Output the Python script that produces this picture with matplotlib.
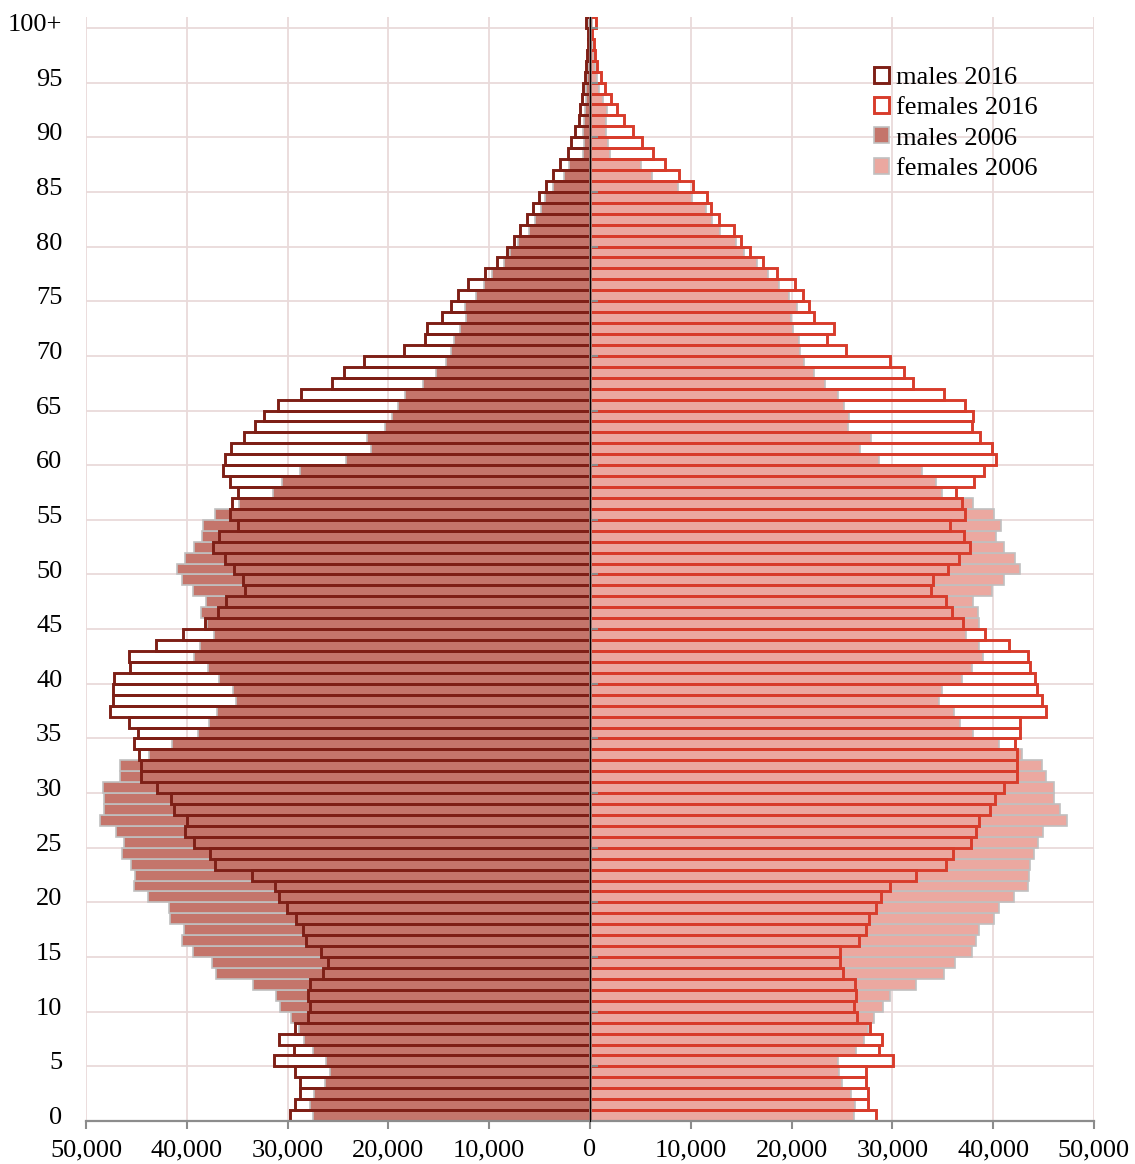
import numpy as np
import matplotlib
matplotlib.use("Agg")
from matplotlib import pyplot as plt

plt.rcParams['font.family'] = ['Liberation Serif', 'DejaVu Serif']

# age 0 .. 100+
ages = np.arange(101)
age_labels = [str(a) for a in range(0, 100, 5)] + ['100+']

males_2016 = [29720, 29290, 28730, 28730, 29260, 31380, 29390, 30820, 29290, 27940,
              27800, 28000, 27740, 26510, 26020, 26680, 28200, 28470, 29190, 30050,
              30820, 31280, 33500, 37170, 37670, 39320, 40210, 39980, 41240, 41570,
              42960, 44550, 44550, 44780, 45280, 44880, 45780, 47660, 47370, 47370,
              47200, 45680, 45780, 43030, 40420, 38160, 36870, 36110, 34190, 34420,
              35280, 36210, 37400, 36770, 34950, 35750, 35550, 34890, 35750, 36410,
              36210, 35580, 34290, 33200, 32340, 30950, 28700, 25590, 24390, 22410,
              18470, 16320, 16150, 14660, 13800, 13070, 12080, 10460, 9200, 8230,
              7490, 6920, 6260, 5620, 5050, 4350, 3650, 3000, 2200, 1840,
              1440, 1110, 940, 780, 650, 480, 380, 300, 240, 210,
              350]

females_2016 = [28400, 27540, 27540, 27340, 27410, 30020, 28630, 28960, 27740, 26480,
                26150, 26410, 26280, 25090, 24760, 24830, 26740, 27410, 27640, 28400,
                28900, 29790, 32340, 35280, 35980, 37830, 38300, 38560, 39720, 40150,
                41040, 42330, 42370, 42370, 42170, 42670, 42700, 45250, 44820, 44350,
                44150, 43690, 43430, 41610, 39220, 36970, 35880, 35320, 33830, 34030,
                35480, 36580, 37730, 37070, 35750, 37170, 36910, 36280, 38070, 39120,
                40320, 39890, 38660, 37900, 38000, 37240, 35150, 32070, 31110, 29720,
                25390, 23500, 24260, 22180, 21780, 21120, 20320, 18600, 17150, 15850,
                14960, 14300, 12830, 12050, 11660, 10230, 8880, 7450, 6260, 5150,
                4250, 3400, 2720, 2060, 1530, 1130, 740, 510, 350, 250,
                610]

males_2006 = [27510, 27740, 27410, 26280, 25820, 26220, 27510, 28330, 28900, 29660,
              30780, 31110, 33430, 37070, 37500, 39390, 40480, 40320, 41710, 41740,
              43860, 45220, 45120, 45550, 46440, 46270, 47040, 48660, 48190, 48260,
              48330, 46670, 46670, 43790, 41470, 38930, 37800, 37010, 35090, 35420,
              36840, 37930, 39260, 38730, 37340, 38000, 38600, 38070, 39390, 40480,
              40980, 40150, 39260, 38500, 38400, 37170, 34850, 31450, 30520, 28730,
              24200, 21680, 22110, 20360, 19600, 19000, 18400, 16550, 15290, 14330,
              13770, 13500, 12910, 12280, 12350, 11350, 10530, 9700, 8540, 7900,
              7170, 6070, 5410, 4850, 4420, 3690, 2600, 2040, 680, 610,
              700, 600, 500, 430, 350, 250, 180, 130, 90, 60,
              80]

females_2006 = [26150, 26310, 25920, 25020, 24690, 24590, 26380, 27210, 27540, 28140,
                29060, 29790, 32340, 35090, 36240, 37900, 38300, 38590, 40120, 40580,
                42100, 43430, 43560, 43690, 44090, 44420, 44950, 47330, 46670, 46010,
                46010, 45280, 44880, 42860, 40550, 37970, 36740, 36150, 34590, 34920,
                36910, 37900, 38990, 38560, 37340, 38630, 38500, 37970, 39890, 41040,
                42630, 42200, 41040, 40320, 40780, 40050, 38000, 34950, 34360, 32970,
                28660, 26750, 27870, 25650, 25690, 25220, 24590, 23340, 22210, 21250,
                20850, 20750, 20120, 19960, 20520, 19790, 18800, 17710, 16620, 15290,
                14500, 12910, 12150, 11550, 10150, 8700, 6200, 5070, 1960, 1790,
                1630, 1620, 1640, 1250, 940, 710, 500, 350, 250, 150,
                200]

x_ticks = [-50000, -40000, -30000, -20000, -10000, 0, 10000, 20000, 30000, 40000, 50000]

col_m16 = '#7E1F16'
col_f16 = '#D83C2B'
col_m06 = '#C4756B'
col_f06 = '#EBA8A0'
col_edge06 = '#C0C0C0'
col_axis = '#8C8C8C'
col_grid = '#E9DADA'

fig = plt.figure(figsize=(11.35, 11.64), dpi=100)
ax = fig.add_axes([0.0758, 0.0369, 0.888, 0.9485])

m06 = ax.barh(ages, -np.array(males_2006), height=1.0, color=col_m06,
              edgecolor=col_edge06, linewidth=1.2, label='males 2006')
f06 = ax.barh(ages, females_2006, height=1.0, color=col_f06,
              edgecolor=col_edge06, linewidth=1.2, label='females 2006')
m16 = ax.barh(ages, -np.array(males_2016), height=1.0, fill=False,
              edgecolor=col_m16, linewidth=2.1, label='males 2016')
f16 = ax.barh(ages, females_2016, height=1.0, fill=False,
              edgecolor=col_f16, linewidth=2.1, label='females 2016')

ax.set_xlim(-50000, 50000)
ax.set_ylim(-0.5, 100.5)

ax.set_xticks(x_ticks)
ax.set_xticklabels([f'{abs(v):,}' for v in x_ticks])
ax.set_yticks(ages[::5])
ax.set_yticklabels(age_labels)
ax.set_yticks(np.arange(4.5, 100, 5), minor=True)

ax.grid(axis='x', which='major', color=col_grid, linewidth=1.3)
ax.grid(axis='y', which='minor', color=col_grid, linewidth=1.3)
ax.set_axisbelow(True)

for s in ['top', 'right', 'left']:
    ax.spines[s].set_visible(False)
ax.spines['bottom'].set_color(col_axis)
ax.spines['bottom'].set_linewidth(1.6)
ax.tick_params(axis='x', which='major', length=6, width=1.5, color=col_axis,
               labelsize=19, pad=7)
ax.tick_params(axis='y', which='both', length=0, labelsize=19, pad=17)

# centre axis with small ticks every 5 years
ax.axvline(0, color=col_axis, linewidth=1.8, zorder=4)
sec = ax.secondary_yaxis(0.5)
sec.set_yticks(np.arange(4.5, 100, 5))
sec.set_yticklabels([])
sec.tick_params(length=6, width=1.5, color=col_axis, direction='out')
sec.spines['left'].set_color(col_axis)
sec.spines['left'].set_linewidth(1.8)
sec.set_zorder(5)

ax.legend(handles=[m16, f16, m06, f06], loc='upper left',
          bbox_to_anchor=(874 / 1135, 1 - 67 / 1164), bbox_transform=fig.transFigure,
          frameon=False, fontsize=19, handlelength=0.55, handleheight=0.55,
          handletextpad=0.3, labelspacing=0.3, borderpad=0, borderaxespad=0)

fig.savefig('out.png', dpi=100)
